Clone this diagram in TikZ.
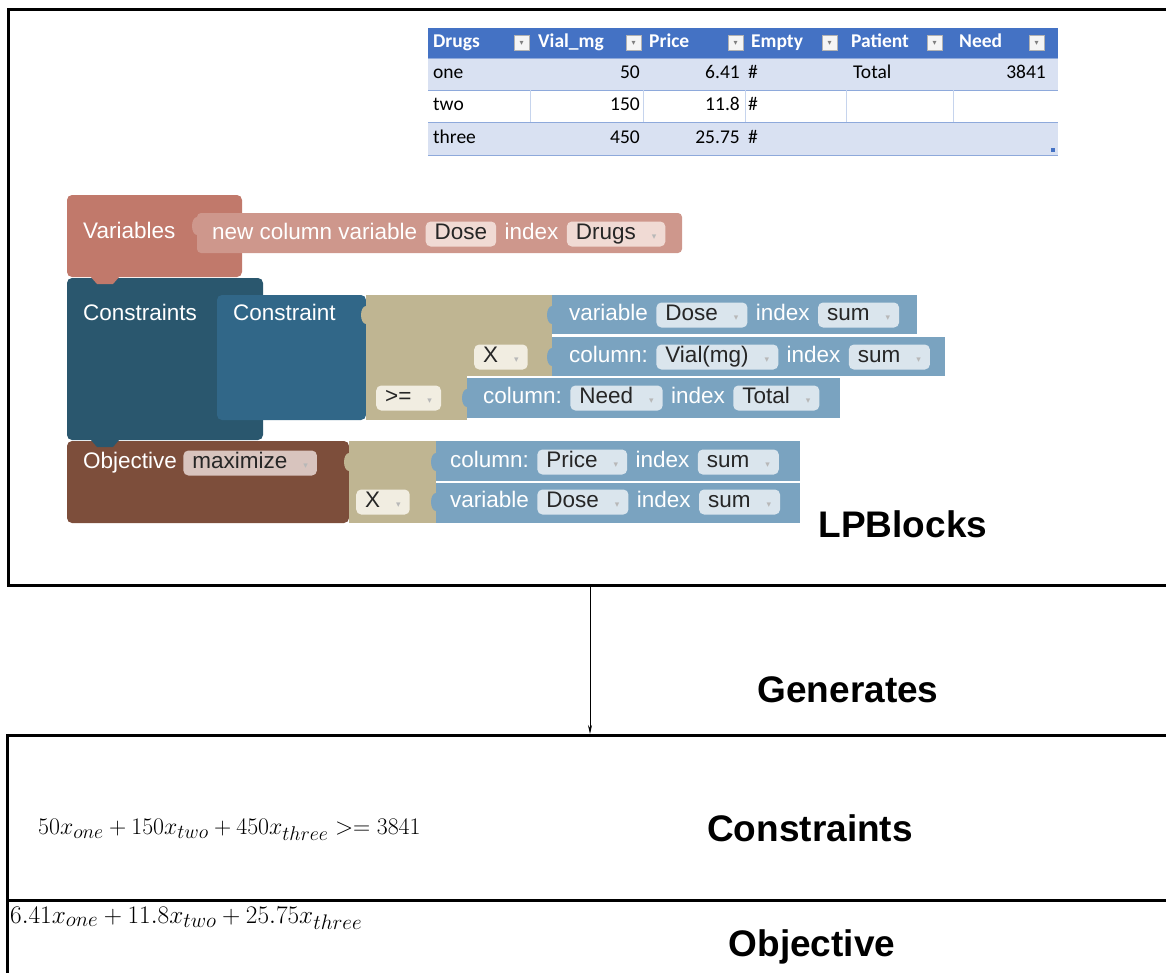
\documentclass[tikz,border=0pt]{standalone}
\usepackage{graphicx}
\usepackage{fontspec}
\newfontfamily\arialf{Liberation Sans}
\newfontfamily\calibf{Carlito}
\newfontfamily\dvsf{DejaVu Sans}
\usetikzlibrary{positioning,arrows.meta}

\definecolor{varsC}{RGB}{193,121,107}
\definecolor{newvarC}{RGB}{206,151,140}
\definecolor{consC}{RGB}{42,87,110}
\definecolor{conC}{RGB}{49,103,136}
\definecolor{tanC}{RGB}{191,181,146}
\definecolor{rowC}{RGB}{122,163,192}
\definecolor{objC}{RGB}{125,78,59}
\definecolor{fldB}{RGB}{218,229,237}
\definecolor{fldS}{RGB}{240,218,212}
\definecolor{fldT}{RGB}{241,237,225}
\definecolor{fldO}{RGB}{216,196,190}
\definecolor{hdrC}{RGB}{68,114,196}
\definecolor{bandC}{RGB}{217,225,242}
\definecolor{gridC}{RGB}{142,169,219}

\newcommand\dd{\hspace{16pt}{\dvsf\fontsize{9}{9}\selectfont\color{black!28}▾}}

\tikzset{
  blab/.style={text=white, font=\arialf\fontsize{22.5}{22.5}\selectfont, inner sep=0pt,
    text height=16pt, text depth=5pt, anchor=west},
  fld/.style={fill=#1, rounded corners=5pt, text=black!85, font=\arialf\fontsize{22.5}{22.5}\selectfont,
    inner xsep=9pt, inner ysep=2pt, text height=16pt, text depth=5pt, anchor=west},
  cell/.style={font=\calibf\fontsize{19.5}{19.5}\selectfont, inner sep=0pt, text height=13pt, text depth=4pt},
  hdr/.style={cell, font=\calibf\bfseries\fontsize{19.5}{19.5}\selectfont, text=white, anchor=west},
  hbox/.style={fill=black!4, draw=black!30, minimum size=15pt, inner sep=0pt},
  big/.style={font=\arialf\bfseries\fontsize{37}{37}\selectfont, inner sep=0pt},
  frame/.style={line width=3pt}
}

\begin{document}
\begin{tikzpicture}[x=1pt,y=-1pt]
\useasboundingbox (0,0) rectangle (1166,972);
% table
\fill[hdrC] (428,28) rectangle (1058,58);
\fill[bandC] (428,58) rectangle (1058,90);
\fill[bandC] (428,122) rectangle (1058,155);
\foreach \y in {58,90,122,155}
  \draw[gridC] (428,\y) -- (1058,\y);
\foreach \x in {530,643,745,846,953}
  \draw[gridC!50] (\x,90) -- (\x,122);
\foreach \x/\t [count=\i] in {433/Drugs,538/Vial\_mg,649/Price,751/Empty,851/Patient,959/Need}
  \node[hdr] (h\i) at (\x,43) {\t};
\foreach \x [count=\i] in {514,626,728,822,927,1029}
  \node[hbox] (hb\i) at (\x+7.5,43) {{\dvsf\fontsize{8}{8}\selectfont\color{black!50}▾}};
\foreach \y/\a/\b/\c [count=\i] in {74/one/50/6.41,106/two/150/11.8,139/three/450/25.75}{
  \node[cell,anchor=west] (d\i) at (433,\y) {\a};
  \node[cell,anchor=east] (v\i) at (640,\y) {\b};
  \node[cell,anchor=east] (p\i) at (740,\y) {\c};
  \node[cell,anchor=west] (e\i) at (748,\y) {\#};
}
\node[cell,anchor=west] (tot) at (853,74) {Total};
\node[cell,anchor=east] (need) at (1046,74) {3841};
\fill[hdrC] (1051,152) rectangle (1055,148);

% blocks
\fill[varsC, rounded corners=5pt] (67,195) rectangle (242,277);
\fill[newvarC, rounded corners=4pt] (197,213) rectangle (682,253);
\fill[newvarC] (197,226) ellipse (5 and 9);
\fill[consC, rounded corners=5pt] (67,278) rectangle (263,440);
\fill[varsC] (90,276) -- (97,284) -- (113,284) -- (120,276) -- cycle;
\fill[conC, rounded corners=5pt] (217,295) rectangle (366,420);
\fill[tanC] (366,295) rectangle (467,420);
\fill[tanC] (467,295) rectangle (552,376);
\fill[tanC] (366,315) ellipse (5 and 9);
\fill[rowC] (552,295) rectangle (917,334);
\fill[rowC] (552,337) rectangle (945,376);
\fill[rowC] (467,378) rectangle (840,418);
\foreach \y in {315,357}
  \fill[rowC] (552,\y) ellipse (5 and 9);
\fill[rowC] (467,398) ellipse (5 and 9);
\fill[objC, rounded corners=5pt] (67,441) rectangle (349,523);
\fill[consC] (90,439) -- (97,447) -- (113,447) -- (120,439) -- cycle;
\fill[tanC] (349,441) rectangle (436,523);
\fill[tanC] (349,462) ellipse (5 and 9);
\fill[rowC] (436,441) rectangle (800,481);
\fill[rowC] (436,483) rectangle (800,523);
\foreach \y in {462,502}
  \fill[rowC] (436,\y) ellipse (5 and 9);

\node[blab] (vars) at (83,233) {Variables};
\node[blab] (nv1) at (212,234) {new column variable};
\node[fld=fldS, right=8pt of nv1] (nv2) {Dose};
\node[blab, right=8pt of nv2] (nv3) {index};
\node[fld=fldS, right=8pt of nv3] (nv4) {Drugs\dd};

\node[blab] (cons) at (83,315) {Constraints};
\node[blab] (con) at (233,315) {Constraint};

\node[blab] (ra1) at (569,315) {variable};
\node[fld=fldB, right=8pt of ra1] (ra2) {Dose\dd};
\node[blab, right=8pt of ra2] (ra3) {index};
\node[fld=fldB, right=8pt of ra3] (ra4) {sum\dd};

\node[fld=fldT] (rbx) at (474,357) {X\dd};
\node[blab] (rb1) at (569,357) {column:};
\node[fld=fldB, right=8pt of rb1] (rb2) {Vial(mg)\dd};
\node[blab, right=8pt of rb2] (rb3) {index};
\node[fld=fldB, right=8pt of rb3] (rb4) {sum\dd};

\node[fld=fldT] (rcx) at (376,398) {>=\dd};
\node[blab] (rc1) at (483,398) {column:};
\node[fld=fldB, right=8pt of rc1] (rc2) {Need\dd};
\node[blab, right=8pt of rc2] (rc3) {index};
\node[fld=fldB, right=8pt of rc3] (rc4) {Total\dd};

\node[blab] (obj) at (83,463) {Objective};
\node[fld=fldO, right=6pt of obj] (max) {maximize\dd};

\node[blab] (oa1) at (450,462) {column:};
\node[fld=fldB, right=8pt of oa1] (oa2) {Price\dd};
\node[blab, right=8pt of oa2] (oa3) {index};
\node[fld=fldB, right=8pt of oa3] (oa4) {sum\dd};

\node[fld=fldT] (obx) at (356,502) {X\dd};
\node[blab] (ob1) at (450,502) {variable};
\node[fld=fldB, right=8pt of ob1] (ob2) {Dose\dd};
\node[blab, right=8pt of ob2] (ob3) {index};
\node[fld=fldB, right=8pt of ob3] (ob4) {sum\dd};

\node[big] (lp) at (903,524) {LPBlocks};

% frames
\draw[frame] (1170,9) -- (8,9) -- (8,585) -- (1170,585);
\draw[frame] (1170,735) -- (7,735) -- (7,980);
\draw[frame] (7,900) -- (1170,900);
\coordinate (src) at (590,586);
\coordinate (dst) at (590,734);
\draw[-{Stealth[length=9pt,width=4pt]}, line width=0.8pt] (src) -- (dst);
\node[big] (gen) at (848,690) {Generates};
\node[big] (cst) at (810,828) {Constraints};
\node[big] (ob) at (812,947) {Objective};
\node[anchor=west, font=\fontsize{24.88}{25}\selectfont, inner sep=0pt] (eq1) at (38,830)
  {\scalebox{0.957}{$50x_{one}+150x_{two}+450x_{three} >= 3841$}};
\node[anchor=west, font=\fontsize{24.88}{25}\selectfont, inner sep=0pt] (eq2) at (10,918)
  {\scalebox{1.016}{$6.41x_{one}+11.8x_{two}+25.75x_{three}$}};
\end{tikzpicture}
\end{document}
